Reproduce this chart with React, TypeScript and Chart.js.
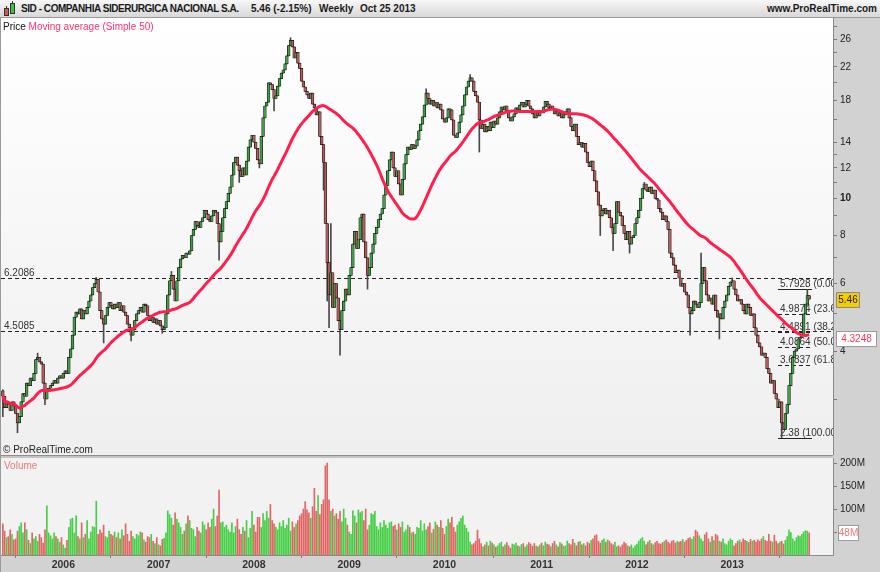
import React, { useEffect, useRef } from 'react';
import { Chart, registerables } from 'chart.js';
Chart.register(...registerables);

const FONT = '"Liberation Sans", Arial, sans-serif';

// ---------- DATA (weekly, May 20 2005 .. Oct 25 2013) ----------
const lastWeekUTC = Date.UTC(2013, 9, 25);
const firstOpen = 3.15;
const closes = [
  3.05, 2.85, 2.95, 2.90, 2.80, 2.95, 2.88, 2.75, 2.60, 2.70,
  2.95, 3.10, 3.05, 3.30, 3.25, 3.40, 3.35, 3.50, 3.80, 3.85,
  3.75, 3.70, 3.30, 3.00, 3.15, 3.20, 3.25, 3.30, 3.35, 3.30,
  3.40, 3.45, 3.40, 3.50, 3.55, 3.50, 3.85, 4.05, 4.40, 4.90,
  5.05, 5.00, 5.15, 4.85, 5.10, 5.00, 5.20, 5.40, 5.60, 5.85,
  6.00, 6.15, 5.70, 5.10, 4.85, 4.70, 4.95, 5.20, 5.35, 5.25,
  5.15, 5.30, 5.20, 5.35, 5.10, 5.25, 5.05, 4.95, 4.70, 4.60,
  4.40, 4.55, 4.80, 5.00, 5.10, 5.20, 5.05, 5.30, 5.25, 4.95,
  4.80, 4.90, 4.75, 4.85, 4.70, 4.80, 4.65, 4.55, 4.60, 5.00,
  5.60, 6.10, 6.30, 5.80, 5.40, 6.10, 6.60, 6.95, 7.10, 7.00,
  7.20, 7.15, 7.30, 8.00, 8.30, 8.70, 8.50, 8.40, 8.70, 8.90,
  9.30, 9.10, 8.80, 8.70, 9.00, 9.30, 9.20, 8.60, 7.70, 8.20,
  8.90, 9.40, 9.80, 10.30, 10.70, 11.50, 12.40, 12.80, 12.20, 11.80,
  11.40, 12.00, 11.50, 12.50, 13.60, 14.20, 14.60, 14.00, 13.50, 12.60,
  12.30, 14.50, 16.20, 17.40, 17.80, 20.00, 19.80, 19.20, 18.20, 18.50,
  19.60, 20.50, 21.20, 21.60, 22.40, 23.50, 25.00, 25.80, 24.80, 23.20,
  24.00, 22.50, 21.80, 20.20, 19.50, 19.00, 18.60, 18.20, 18.80, 17.60,
  17.20, 16.50, 16.80, 14.50, 13.80, 12.40, 8.60, 6.80, 5.60, 6.40,
  5.20, 6.00, 5.50, 4.80, 4.55, 5.10, 5.40, 5.80, 5.60, 6.30,
  6.60, 7.60, 8.20, 7.40, 7.80, 8.90, 9.10, 7.70, 7.00, 6.30,
  6.60, 7.20, 7.60, 8.10, 8.40, 8.80, 9.10, 9.40, 10.20, 10.80,
  11.80, 12.60, 13.20, 12.00, 11.40, 11.80, 10.90, 10.20, 11.20, 12.30,
  13.00, 13.60, 13.40, 13.80, 13.50, 13.70, 14.20, 15.00, 15.60, 16.30,
  17.50, 18.80, 18.20, 17.60, 18.00, 17.40, 17.80, 17.20, 17.60, 17.00,
  16.10, 15.80, 16.20, 17.10, 17.00, 16.00, 14.60, 14.40, 14.80, 15.80,
  16.50, 17.40, 18.60, 19.50, 20.20, 20.60, 20.20, 19.00, 18.50, 17.80,
  16.00, 15.20, 15.60, 14.90, 15.40, 15.00, 15.80, 15.30, 15.90, 15.60,
  16.20, 16.80, 17.30, 17.00, 17.40, 16.90, 16.20, 15.90, 16.30, 16.60,
  17.20, 17.00, 17.50, 17.80, 17.30, 17.60, 18.00, 17.40, 17.10, 16.60,
  16.20, 16.80, 16.40, 16.90, 16.70, 17.30, 17.90, 17.60, 17.20, 17.40,
  17.00, 16.60, 16.90, 16.40, 16.70, 16.20, 16.50, 16.80, 17.10, 16.20,
  15.40, 15.00, 15.60, 14.50, 13.80, 14.00, 13.60, 13.90, 13.20, 12.40,
  12.10, 12.50, 11.80, 11.10, 10.40, 9.60, 9.00, 9.30, 9.40, 9.10,
  9.30, 8.90, 8.40, 8.10, 8.60, 9.80, 9.20, 9.00, 8.50, 8.10,
  7.80, 8.20, 7.60, 7.90, 8.00, 8.60, 8.90, 9.30, 10.00, 10.60,
  10.90, 10.50, 10.40, 10.70, 10.30, 10.50, 10.00, 9.90, 9.40, 9.20,
  8.80, 9.00, 8.70, 8.30, 7.20, 7.00, 6.70, 6.40, 6.50, 6.20,
  5.90, 6.00, 5.70, 5.60, 5.20, 5.00, 5.10, 5.40, 5.30, 5.20,
  5.35, 6.00, 6.60, 6.10, 5.60, 5.40, 5.50, 5.30, 5.60, 5.10,
  4.90, 5.00, 4.85, 5.20, 5.40, 5.60, 5.90, 6.05, 6.10, 5.80,
  5.60, 5.40, 5.45, 5.30, 5.10, 5.00, 5.30, 5.20, 4.95, 5.00,
  4.60, 4.40, 4.20, 4.10, 3.90, 3.95, 3.85, 3.60, 3.50, 3.30,
  3.35, 3.10, 3.00, 2.85, 2.95, 2.60, 2.50, 2.75, 2.90, 3.25,
  3.50, 3.85, 4.00, 4.05, 4.30, 4.35, 4.40, 5.00, 5.30, 5.58,
  5.46,
];
const wickHighs: [number, number][] = [
  [0, 3.17], [19, 3.95], [51, 6.22], [92, 6.45], [157, 26.2], [176, 11.0],
  [177, 8.4], [179, 8.6], [231, 19.3], [255, 21.0], [350, 11.0], [381, 7.2],
  [398, 6.2], [439, 5.7928],
];
const wickLows: [number, number][] = [
  [0, 2.70], [8, 2.45], [23, 2.90], [55, 4.20], [70, 4.25], [87, 4.45],
  [118, 6.90], [129, 11.0], [140, 12.0], [148, 16.9], [175, 10.5], [177, 5.4],
  [178, 4.6], [184, 3.9], [199, 5.8], [260, 13.2], [326, 8.0], [333, 7.3],
  [342, 7.2], [375, 4.4], [391, 4.3], [425, 2.38],
];
const volumes = [ // millions
  68, 52, 38, 40, 55, 45, 33, 35, 52, 62,
  70, 48, 70, 55, 32, 25, 48, 35, 40, 30,
  45, 38, 26, 55, 107, 48, 42, 35, 48, 40,
  35, 28, 38, 22, 15, 32, 60, 78, 80, 48,
  85, 40, 35, 70, 38, 45, 75, 35, 50, 62,
  60, 117, 45, 55, 48, 65, 40, 38, 52, 45,
  42, 50, 38, 48, 35, 55, 42, 68, 45, 30,
  52, 40, 35, 45, 42, 50, 48, 33, 28, 40,
  38, 45, 30, 25, 38, 22, 20, 34, 36, 48,
  96, 88, 80, 65, 92, 78, 70, 60, 45, 52,
  68, 85, 75, 58, 55, 40, 60, 52, 48, 72,
  65, 55, 70, 60, 78, 100, 62, 85, 141, 70,
  72, 60, 65, 55, 50, 70, 48, 62, 78, 55,
  45, 60, 52, 75, 38, 58, 95, 65, 50, 82,
  82, 60, 90, 75, 95, 80, 110, 75, 68, 60,
  55, 70, 62, 75, 58, 65, 80, 52, 72, 60,
  68, 75, 85, 90, 100, 116, 98, 92, 80, 105,
  145, 95, 129, 88, 110, 120, 194, 200, 120, 95,
  100, 85, 90, 78, 95, 72, 100, 80, 65, 50,
  45, 96, 85, 70, 98, 92, 95, 75, 100, 55,
  65, 90, 88, 95, 62, 55, 70, 60, 75, 65,
  58, 70, 72, 62, 65, 55, 68, 60, 72, 50,
  55, 65, 60, 48, 50, 45, 60, 58, 75, 52,
  68, 55, 62, 70, 48, 56, 72, 65, 60, 75,
  58, 45, 62, 78, 70, 82, 60, 50, 65, 72,
  80, 85, 65, 58, 50, 28, 22, 25, 30, 54,
  35, 25, 18, 22, 28, 20, 30, 26, 22, 17,
  20, 25, 28, 18, 22, 27, 20, 15, 24, 22,
  26, 20, 18, 23, 25, 17, 22, 27, 24, 19,
  25, 20, 18, 22, 26, 20, 28, 24, 22, 18,
  25, 30, 22, 18, 27, 24, 19, 20, 30, 25,
  22, 34, 26, 20, 28, 30, 22, 25, 20, 28,
  25, 32, 35, 42, 44, 30, 26, 32, 35, 28,
  33, 30, 25, 22, 28, 18, 20, 17, 22, 28,
  25, 20, 18, 22, 15, 20, 24, 30, 35, 38,
  30, 22, 28, 32, 25, 22, 27, 30, 25, 24,
  27, 30, 33, 28, 25, 30, 32, 26, 30, 28,
  30, 34, 28, 32, 36, 38, 34, 40, 54, 50,
  42, 35, 30, 44, 49, 35, 28, 40, 32, 45,
  42, 30, 28, 35, 25, 22, 30, 35, 32, 20,
  25, 30, 33, 28, 35, 32, 30, 27, 34, 30,
  32, 28, 33, 30, 35, 40, 32, 30, 45, 30,
  28, 43, 30, 25, 28, 30, 24, 32, 40, 54,
  49, 35, 30, 38, 42, 40, 45, 50, 53, 52,
  48,
];
const yearLabels = ['2006', '2007', '2008', '2009', '2010', '2011', '2012', '2013'];
const priceTickLabels = [4, 6, 8, 10, 12, 14, 18, 22, 26];
const priceMinorTicks = [3, 5, 7, 9, 11, 13, 16, 20, 24, 28];
const volumeTicks = [50, 100, 150, 200];
const hLineValues = [6.2086, 4.5085];
const hLineLabels = ['6.2086', '4.5085'];
const fibValues = [5.7928, 4.9874, 4.4891, 4.0864, 3.6837, 2.38];
const fibLabels = ['5.7928 (0.00%)', '4.9874 (23.6%)', '4.4891 (38.2%)', '4.0864 (50.0%)', '3.6837 (61.8%)', '2.38 (100.00%)'];
const fibFromWeek = 423;
const fibToWeek = 441.5;
const lastPrice = 5.46;
const lastPriceLabel = '5.46';
const maLastLabel = '4.3248';
const maLastValue = 4.3248;
const lastVolLabel = '48M';
const lastVolValue = 48;
const MA_PERIOD = 50;

// ---------- derived ----------
const N = closes.length;
const X_MIN = -1;
const X_MAX = 453;
const idx = closes.map((_, i) => i);
const opens = closes.map((c, i) => (i === 0 ? firstOpen : closes[i - 1]));
const highs = closes.map((c, i) => Math.max(c, opens[i]));
const lows = closes.map((c, i) => Math.min(c, opens[i]));
wickHighs.forEach(([i, v]) => { highs[i] = Math.max(highs[i], v); });
wickLows.forEach(([i, v]) => { lows[i] = Math.min(lows[i], v); });
const up = closes.map((c, i) => c >= opens[i]);
const ma = closes.map((_, i) => {
  const s = Math.max(0, i - MA_PERIOD + 1);
  let sum = 0;
  for (let k = s; k <= i; k++) sum += closes[k];
  return sum / (i - s + 1);
});
const weekYear = (i: number) => new Date(lastWeekUTC - (N - 1 - i) * 7 * 86400000).getUTCFullYear();
const yearTickIdx = yearLabels.map((y) => {
  for (let i = 0; i < N; i++) if (weekYear(i) === Number(y)) return i;
  return -1;
});

function axisBox(ctx: CanvasRenderingContext2D, x: number, yc: number, w: number, text: string, fill: string, color: string, border: string) {
  const h = 15;
  const top = Math.round(yc - h / 2) + 0.5;
  ctx.fillStyle = fill;
  ctx.fillRect(x + 0.5, top, w, h);
  ctx.strokeStyle = border;
  ctx.lineWidth = 1;
  ctx.setLineDash([]);
  ctx.strokeRect(x + 0.5, top, w, h);
  ctx.fillStyle = color;
  ctx.font = `10px ${FONT}`;
  ctx.textAlign = 'center';
  ctx.textBaseline = 'middle';
  ctx.fillText(text, x + 0.5 + w / 2, top + h / 2 + 0.5);
}

const pricePlugin = {
  id: 'priceDecor',
  beforeDraw(chart: any) {
    const { ctx, chartArea: a, width, height } = chart;
    ctx.save();
    ctx.fillStyle = '#d2d2d2';
    ctx.fillRect(0, 0, width, height);
    const g = ctx.createLinearGradient(0, a.top, 0, a.bottom);
    g.addColorStop(0, '#ffffff');
    g.addColorStop(1, '#efefef');
    ctx.fillStyle = g;
    ctx.fillRect(a.left, a.top, a.right - a.left, a.bottom - a.top);
    ctx.fillStyle = '#9a9a9a';
    ctx.fillRect(0, 0, 1, height);
    ctx.restore();
  },
  beforeDatasetsDraw(chart: any) {
    const { ctx, chartArea: a, scales } = chart;
    const x = scales.x, y = scales.y;
    ctx.save();
    ctx.beginPath();
    ctx.rect(a.left, a.top, a.right - a.left, a.bottom - a.top);
    ctx.clip();
    ctx.font = `10px ${FONT}`;
    ctx.textAlign = 'left';
    ctx.textBaseline = 'alphabetic';
    ctx.strokeStyle = '#222';
    ctx.lineWidth = 1;
    hLineValues.forEach((v, k) => {
      const py = Math.round(y.getPixelForValue(v)) + 0.5;
      ctx.setLineDash([4, 3]);
      ctx.beginPath();
      ctx.moveTo(a.left, py);
      ctx.lineTo(a.right, py);
      ctx.stroke();
      ctx.fillStyle = '#333';
      ctx.fillText(hLineLabels[k], a.left + 3, py - 2.5);
    });
    const x0 = x.getPixelForValue(fibFromWeek);
    const x1 = x.getPixelForValue(fibToWeek);
    fibValues.forEach((v, k) => {
      const py = Math.round(y.getPixelForValue(v)) + 0.5;
      ctx.setLineDash(k === 0 || k === fibValues.length - 1 ? [] : [4, 3]);
      ctx.beginPath();
      ctx.moveTo(x0, py);
      ctx.lineTo(x1, py);
      ctx.stroke();
      ctx.fillStyle = '#333';
      ctx.fillText(fibLabels[k], x0 + 2, py - 2.5);
    });
    ctx.restore();
  },
  afterDraw(chart: any) {
    const { ctx, chartArea: a, scales } = chart;
    const y = scales.y;
    ctx.save();
    ctx.font = `10px ${FONT}`;
    ctx.textAlign = 'left';
    ctx.textBaseline = 'alphabetic';
    ctx.fillStyle = '#111';
    ctx.fillText('Price', a.left + 2, a.top + 12);
    const w = ctx.measureText('Price ').width;
    ctx.fillStyle = '#ff3366';
    ctx.fillText('Moving average (Simple 50)', a.left + 2 + w, a.top + 12);
    ctx.fillStyle = '#222';
    ctx.fillText('\u00A9 ProRealTime.com', a.left + 2, a.bottom - 2);
    axisBox(ctx, a.right + 3, y.getPixelForValue(lastPrice), 23, lastPriceLabel, '#f5cc00', '#222', '#8a8a8a');
    axisBox(ctx, a.right + 3, y.getPixelForValue(maLastValue), 40, maLastLabel, '#ffffff', '#ff3355', '#9a9a9a');
    ctx.restore();
  },
};

const volPlugin = {
  id: 'volDecor',
  beforeDraw(chart: any) {
    const { ctx, chartArea: a, width, height } = chart;
    ctx.save();
    ctx.fillStyle = '#d2d2d2';
    ctx.fillRect(0, 0, width, height);
    ctx.fillStyle = '#8e8e8e';
    ctx.fillRect(0, 0, a.right, 1);
    ctx.fillStyle = '#c4c4c4';
    ctx.fillRect(0, 1, a.right, a.top - 1);
    ctx.fillStyle = '#f2f2f2';
    ctx.fillRect(a.left, a.top, a.right - a.left, a.bottom - a.top);
    ctx.fillStyle = '#9a9a9a';
    ctx.fillRect(0, 0, 1, height);
    ctx.restore();
  },
  afterDraw(chart: any) {
    const { ctx, chartArea: a, scales } = chart;
    ctx.save();
    ctx.font = `10px ${FONT}`;
    ctx.textAlign = 'left';
    ctx.textBaseline = 'alphabetic';
    ctx.fillStyle = '#e77a7a';
    ctx.fillText('Volume', a.left + 3, a.top + 11);
    axisBox(ctx, a.right + 5, scales.y.getPixelForValue(lastVolValue), 20, lastVolLabel, '#ffffff', '#ee7777', '#9a9a9a');
    ctx.restore();
  },
};

export default function App() {
  const priceRef = useRef<HTMLCanvasElement>(null);
  const volRef = useRef<HTMLCanvasElement>(null);

  useEffect(() => {
    const pc = new Chart(priceRef.current as HTMLCanvasElement, {
      type: 'bar',
      data: {
        datasets: [
          {
            type: 'line',
            data: idx.map((i) => ({ x: i, y: ma[i] })),
            borderColor: '#ff1f4f',
            borderWidth: 3,
            pointRadius: 0,
            tension: 0.3,
            order: 1,
          } as any,
          {
            type: 'bar',
            data: idx.map((i) => ({ x: i, y: [Math.min(opens[i], closes[i]), Math.max(opens[i], closes[i])] })),
            backgroundColor: idx.map((i) => (up[i] ? '#3f9f45' : '#b35b58')),
            borderColor: '#161616',
            borderWidth: 0.7,
            borderSkipped: false,
            barThickness: 2.8,
            grouped: false,
            order: 2,
          } as any,
          {
            type: 'bar',
            data: idx.map((i) => ({ x: i, y: [lows[i], highs[i]] })),
            backgroundColor: '#4a4a4a',
            barThickness: 1,
            grouped: false,
            order: 3,
          } as any,
        ],
      },
      options: {
        responsive: false,
        animation: false,
        events: [],
        layout: { padding: { left: 1, top: 0, right: 0, bottom: 0 } },
        plugins: { legend: { display: false }, tooltip: { enabled: false } },
        scales: {
          x: { type: 'linear', min: X_MIN, max: X_MAX, offset: false, display: false },
          y: {
            type: 'logarithmic',
            position: 'right',
            min: 2.144,
            max: 29.5,
            afterBuildTicks: (s: any) => {
              s.ticks = [...priceTickLabels, ...priceMinorTicks].sort((p, q) => p - q).map((v) => ({ value: v }));
            },
            afterFit: (s: any) => { s.width = 47; s.paddingTop = 0; s.paddingBottom = 0; },
            ticks: {
              autoSkip: false,
              padding: 3,
              color: '#222',
              font: (c: any) => ({ family: FONT, size: 10, weight: c.tick && c.tick.value === 10 ? 'bold' : 'normal' }),
              callback: (v: any) => (priceTickLabels.includes(Number(v)) ? String(v) : ''),
            },
            grid: { drawOnChartArea: false, tickLength: 4, color: '#7a7a7a' },
            border: { display: true, color: '#8a8a8a' },
          },
        },
      } as any,
      plugins: [pricePlugin],
    });

    const vc = new Chart(volRef.current as HTMLCanvasElement, {
      type: 'bar',
      data: {
        datasets: [
          {
            data: idx.map((i) => ({ x: i, y: volumes[i] })),
            backgroundColor: idx.map((i) => (up[i] ? '#45cf45' : '#e36464')),
            barThickness: 1,
            grouped: false,
          } as any,
        ],
      },
      options: {
        responsive: false,
        animation: false,
        events: [],
        layout: { padding: { left: 1, top: 3, right: 0, bottom: 0 } },
        plugins: { legend: { display: false }, tooltip: { enabled: false } },
        scales: {
          x: {
            type: 'linear',
            min: X_MIN,
            max: X_MAX,
            offset: false,
            position: 'bottom',
            afterBuildTicks: (s: any) => { s.ticks = yearTickIdx.map((v) => ({ value: v })); },
            afterFit: (s: any) => { s.height = 17; s.paddingLeft = 0; s.paddingRight = 0; },
            ticks: {
              autoSkip: false,
              maxRotation: 0,
              padding: 1,
              color: '#333',
              font: { family: FONT, size: 10.5, weight: 'bold' },
              callback: (_v: any, k: number) => yearLabels[k],
            },
            grid: { drawOnChartArea: false, tickLength: 3, color: '#7a7a7a' },
            border: { display: true, color: '#8a8a8a' },
          },
          y: {
            position: 'right',
            min: 0,
            max: 211,
            afterBuildTicks: (s: any) => { s.ticks = volumeTicks.map((v) => ({ value: v })); },
            afterFit: (s: any) => { s.width = 47; s.paddingTop = 0; s.paddingBottom = 0; },
            ticks: {
              autoSkip: false,
              padding: 3,
              color: '#222',
              font: { family: FONT, size: 10 },
              callback: (v: any) => (Number(v) === 50 ? '' : `${v}M`),
            },
            grid: { drawOnChartArea: false, tickLength: 4, color: '#7a7a7a' },
            border: { display: true, color: '#8a8a8a' },
          },
        },
      } as any,
      plugins: [volPlugin],
    });

    return () => { pc.destroy(); vc.destroy(); };
  }, []);

  const hdr: React.CSSProperties = { position: 'absolute', top: 3, font: `bold 10px ${FONT}`, lineHeight: '12px', color: '#1a1a1a', whiteSpace: 'nowrap' };

  return (
    <div style={{ position: 'absolute', left: 0, top: 0, width: 880, height: 572, background: '#d2d2d2', overflow: 'hidden', fontFamily: FONT }}>
      <div style={{ position: 'absolute', left: 0, top: 0, width: 880, height: 18, boxSizing: 'border-box', background: 'linear-gradient(#f7f7f7, #d8d8d8)', borderBottom: '1px solid #9a9a9a' }}>
        <div style={{ position: 'absolute', left: 4, top: 8, width: 3, height: 6, background: '#d9534f', border: '1px solid #333' }} />
        <div style={{ position: 'absolute', left: 5.5, top: 6, width: 1, height: 2, background: '#333' }} />
        <div style={{ position: 'absolute', left: 10, top: 3, width: 3, height: 9, background: '#3cc43c', border: '1px solid #333' }} />
        <div style={{ position: 'absolute', left: 11.5, top: 1, width: 1, height: 2, background: '#333' }} />
        <span style={{ ...hdr, left: 21, letterSpacing: '-0.45px' }}>SID - COMPANHIA SIDERURGICA NACIONAL S.A.</span>
        <span style={{ ...hdr, left: 251 }}>5.46 (-2.15%)</span>
        <span style={{ ...hdr, left: 319 }}>Weekly</span>
        <span style={{ ...hdr, left: 360 }}>Oct 25 2013</span>
        <span style={{ ...hdr, right: 3 }}>www.ProRealTime.com</span>
      </div>
      <div style={{ position: 'absolute', left: 0, top: 18, width: 880, height: 437 }}>
        <canvas ref={priceRef} width={880} height={437} style={{ display: 'block' }} />
      </div>
      <div style={{ position: 'absolute', left: 0, top: 455, width: 880, height: 117 }}>
        <canvas ref={volRef} width={880} height={117} style={{ display: 'block' }} />
      </div>
    </div>
  );
}
